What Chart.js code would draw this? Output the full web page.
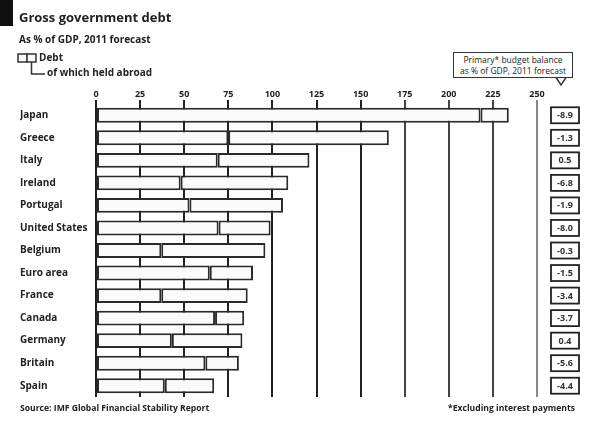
<!DOCTYPE html>
<html>
<head>
<meta charset="utf-8">
<script src="https://cdn.jsdelivr.net/npm/chart.js@4/dist/chart.umd.min.js"></script>
<style>
  html, body { margin: 0; padding: 0; background: #fff; }
  #wrap { position: relative; width: 595px; height: 421px; overflow: hidden; font-family: "Open Sans", "DejaVu Sans", sans-serif; color: #222; }
  #c { position: absolute; left: 0; top: 0; }
  .t { position: absolute; white-space: nowrap; }
  #tag { position: absolute; left: 0; top: 0; width: 13px; height: 26px; background: #111; }
  #title { left: 19px; top: 8px; font-size: 13px; font-weight: 700; }
  #sub { left: 19px; top: 32px; font-size: 10px; font-weight: 700; }
  #leg1 { left: 39px; top: 50px; font-size: 10px; font-weight: 700; }
  #leg2 { left: 47px; top: 65px; font-size: 10px; font-weight: 700; }
  #src { left: 20px; top: 402px; font-size: 8.6px; font-weight: 700; }
  #foot { right: 20px; top: 402px; font-size: 8.6px; font-weight: 700; }
  #callout { position: absolute; left: 453px; top: 52px; width: 120px; height: 26px; border: 1.5px solid #333; background: #fff; font-size: 8.5px; line-height: 11px; text-align: center; box-sizing: border-box; padding-top: 1px; }
</style>
</head>
<body>
<div id="wrap">
  <canvas id="c" width="595" height="421"></canvas>
  <div id="tag"></div>
  <div class="t" id="title">Gross government debt</div>
  <div class="t" id="sub">As % of GDP, 2011 forecast</div>
  <div class="t" id="leg1">Debt</div>
  <div class="t" id="leg2">of which held abroad</div>
  <div class="t" id="src">Source: IMF Global Financial Stability Report</div>
  <div class="t" id="foot">*Excluding interest payments</div>
  <div id="callout">Primary* budget balance<br>as % of GDP, 2011 forecast</div>
</div>
<script>
// ---- data ----
const countries = ["Japan", "Greece", "Italy", "Ireland", "Portugal", "United States", "Belgium", "Euro area", "France", "Canada", "Germany", "Britain", "Spain"];
const totalDebt = [234, 166, 121, 109, 106, 99, 96, 89, 86, 84, 83, 81, 67];
const heldAbroad = [16, 91, 52, 61, 53, 29.5, 59, 24.5, 49, 16.5, 40, 19, 28];
const primaryBalance = ["-8.9", "-1.3", "0.5", "-6.8", "-1.9", "-8.0", "-0.3", "-1.5", "-3.4", "-3.7", "0.4", "-5.6", "-4.4"];
const xTicks = [0, 25, 50, 75, 100, 125, 150, 175, 200, 225, 250];

const domestic = totalDebt.map((t, i) => t - heldAbroad[i]);

const FONT = "'Open Sans', 'DejaVu Sans', sans-serif";

const decor = {
  id: 'decor',
  afterDraw(chart) {
    const ctx = chart.ctx;
    const ys = chart.scales.y;
    ctx.save();
    // legend boxes
    ctx.strokeStyle = '#333';
    ctx.lineWidth = 1.5;
    ctx.fillStyle = '#fafafa';
    ctx.fillRect(18, 54, 9, 8); ctx.strokeRect(18, 54, 9, 8);
    ctx.fillRect(27, 54, 9, 8); ctx.strokeRect(27, 54, 9, 8);
    ctx.beginPath();
    ctx.moveTo(31.5, 62); ctx.lineTo(31.5, 74); ctx.lineTo(45, 74);
    ctx.stroke();
    // callout pointer
    ctx.fillStyle = '#fff';
    ctx.beginPath();
    ctx.moveTo(556, 77); ctx.lineTo(561, 85); ctx.lineTo(566, 77);
    ctx.closePath();
    ctx.fill();
    ctx.beginPath();
    ctx.moveTo(556, 77.5); ctx.lineTo(561, 85); ctx.lineTo(566, 77.5);
    ctx.stroke();
    // primary balance boxes
    ctx.font = 'bold 9px ' + FONT;
    ctx.textAlign = 'center';
    ctx.textBaseline = 'middle';
    primaryBalance.forEach((v, i) => {
      const y = ys.getPixelForValue(i);
      ctx.fillStyle = '#fff';
      ctx.fillRect(551, y - 8, 28, 16);
      ctx.strokeStyle = '#222';
      ctx.lineWidth = 1.8;
      ctx.strokeRect(551, y - 8, 28, 16);
      ctx.fillStyle = '#333';
      ctx.fillText(v, 565, y + 0.5);
    });
    ctx.restore();
  }
};

new Chart(document.getElementById('c'), {
  type: 'bar',
  data: {
    labels: countries,
    datasets: [
      { label: 'Debt', data: domestic, backgroundColor: '#fbfbfb', borderColor: '#2a2a2a', borderWidth: 2, borderSkipped: false },
      { label: 'of which held abroad', data: heldAbroad, backgroundColor: '#fbfbfb', borderColor: '#2a2a2a', borderWidth: 2, borderSkipped: false }
    ]
  },
  options: {
    indexAxis: 'y',
    responsive: false,
    animation: false,
    devicePixelRatio: 1,
    layout: { padding: { left: 20, right: 58, top: 88, bottom: 24 } },
    plugins: { legend: { display: false }, tooltip: { enabled: false } },
    datasets: { bar: { categoryPercentage: 1, barPercentage: 0.66 } },
    scales: {
      x: {
        position: 'top',
        stacked: true,
        min: 0, max: 250,
        afterBuildTicks(s) { s.ticks = xTicks.map(v => ({ value: v })); },
        afterFit(s) { s.height = 16; },
        ticks: { color: '#222', font: { family: FONT, size: 9, weight: 'bold' }, padding: 0, maxRotation: 0 },
        grid: {
          color: (c) => {
            const v = c.tick ? c.tick.value : 0;
            if (v === 250) return '#888';
            if (v >= 175) return '#444';
            return '#222';
          },
          lineWidth: 2,
          tickLength: 4,
          drawTicks: true
        },
        border: { display: false }
      },
      y: {
        stacked: true,
        afterFit(s) { s.width = 76; },
        ticks: { color: '#222', crossAlign: 'far', font: { family: FONT, size: 10, weight: 'bold' }, padding: 4 },
        grid: { display: false },
        border: { display: false }
      }
    }
  },
  plugins: [decor]
});
</script>
</body>
</html>
